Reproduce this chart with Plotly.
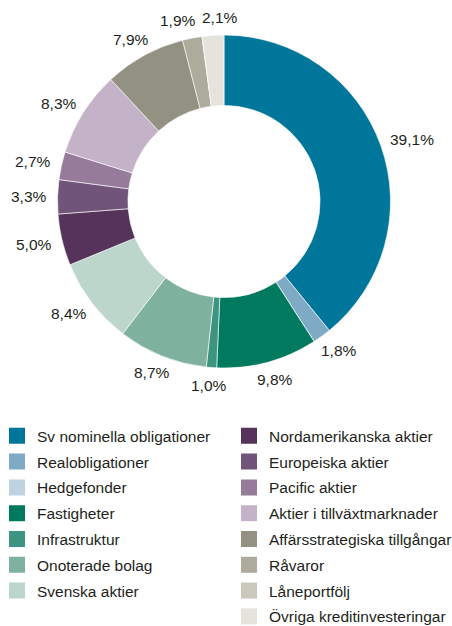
import math
import plotly.graph_objects as go

labels = [
    "Sv nominella obligationer", "Realobligationer", "Hedgefonder", "Fastigheter",
    "Infrastruktur", "Onoterade bolag", "Svenska aktier", "Nordamerikanska aktier",
    "Europeiska aktier", "Pacific aktier", "Aktier i tillväxtmarknader",
    "Affärsstrategiska tillgångar", "Råvaror", "Låneportfölj", "Övriga kreditinvesteringar",
]
values = [39.1, 1.8, 0.0, 9.8, 1.0, 8.7, 8.4, 5.0, 3.3, 2.7, 8.3, 7.9, 1.9, 0.0, 2.1]
colors = [
    "#00769B", "#7FAAC6", "#BDD3E1", "#007A5E", "#3D9480", "#7FB19F", "#BCD6CB",
    "#55335A", "#70547A", "#977B9B", "#C4B2C8", "#939282", "#ACAB9C", "#C9C8BC", "#E4E3DC",
]

texts = [("%.1f%%" % v).replace(".", ",") if v > 0 else "" for v in values]

FONT = "Liberation Sans, Arial, sans-serif"
FS = 15.5
TXT = "#231F20"
W, H = 452, 626

# pie placement (pixels)
CX, CY, R = 224.0, 201.5, 166.5
dom_x = [(CX - R) / W, (CX + R) / W]
dom_y = [1 - (CY + R) / H, 1 - (CY - R) / H]

fig = go.Figure()
fig.add_trace(go.Pie(
    labels=labels, values=values, textinfo="none",
    sort=False, direction="clockwise", rotation=0,
    hole=0.577, showlegend=False,
    marker=dict(colors=colors, line=dict(color="white", width=0.6)),
    domain=dict(x=dom_x, y=dom_y),
    hoverinfo="label+percent",
))

# outside value labels, placed at each slice's mid-angle
def text_width(s):
    w = 0.0
    for ch in s:
        w += 0.889 if ch == "%" else (0.278 if ch == "," else 0.556)
    return w * FS

total = sum(values)
cum = 0.0
GAP, HH = 11.0, 7.0
boxes = []
for v, t in zip(values, texts):
    mid = (cum + v / 2) / total * 2 * math.pi
    cum += v
    if not t:
        continue
    s, c = math.sin(mid), math.cos(mid)
    hw = text_width(t) / 2
    lx = CX + R * s + s * (GAP + hw)
    ly = CY - R * c - c * (GAP + HH)
    boxes.append([lx, ly, hw, t])

# push apart horizontally any labels whose boxes overlap
for _ in range(20):
    moved = False
    for i in range(len(boxes)):
        for j in range(i + 1, len(boxes)):
            a, b = boxes[i], boxes[j]
            if abs(a[1] - b[1]) < 2 * HH + 4:
                need = a[2] + b[2] + 6
                dx = b[0] - a[0]
                if abs(dx) < need:
                    push = (need - abs(dx)) / 2
                    sgn = 1 if dx >= 0 else -1
                    a[0] -= sgn * push
                    b[0] += sgn * push
                    moved = True
    if not moved:
        break

for lx, ly, hw, t in boxes:
    fig.add_annotation(
        x=lx / W, y=1 - ly / H, xref="paper", yref="paper",
        text=t, showarrow=False, xanchor="center", yanchor="middle",
        font=dict(family=FONT, size=FS, color=TXT),
    )

for i, (lab, col) in enumerate(zip(labels, colors)):
    fig.add_trace(go.Scatter(
        x=[None], y=[None], mode="markers", name=lab,
        marker=dict(symbol="square", size=16, color=col, line=dict(width=0)),
        legendgroup="g%d" % i,
        legend="legend" if i < 7 else "legend2",
    ))

legend_common = dict(
    font=dict(family=FONT, size=FS, color=TXT),
    tracegroupgap=2.65, bgcolor="rgba(0,0,0,0)", borderwidth=0,
    xanchor="left", yanchor="top", orientation="v",
)
fig.update_layout(
    width=W, height=H,
    margin=dict(l=0, r=0, t=0, b=0, autoexpand=False),
    paper_bgcolor="white", plot_bgcolor="white",
    xaxis=dict(visible=False), yaxis=dict(visible=False),
    legend=dict(x=-3 / W, y=1 - 419.2 / H, **legend_common),
    legend2=dict(x=229 / W, y=1 - 419.2 / H, **legend_common),
    font=dict(family=FONT),
    showlegend=True,
)

fig.write_html("out.html", config={"displayModeBar": False},
               post_script="document.body.style.margin='0';")
